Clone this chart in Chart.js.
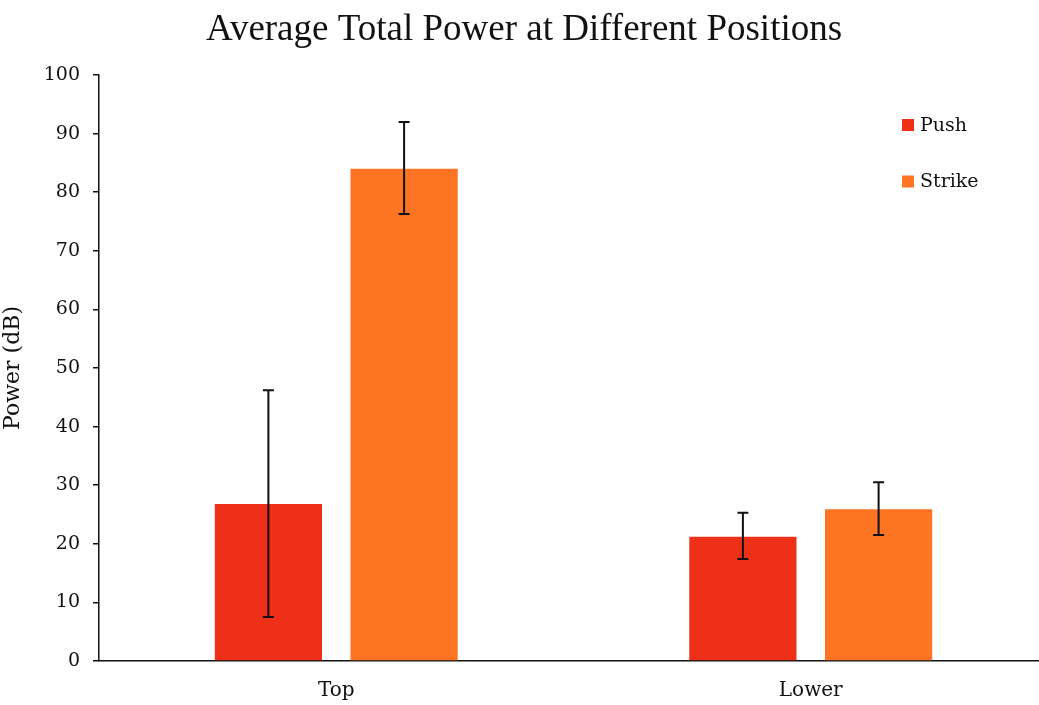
<!DOCTYPE html>
<html>
<head>
<meta charset="utf-8">
<script src="https://cdn.jsdelivr.net/npm/chart.js@4.4.0/dist/chart.umd.min.js"></script>
<style>
html,body{margin:0;padding:0;background:#fff;overflow:hidden;}
#wrap{width:1039px;height:705px;position:relative;overflow:hidden;}
</style>
</head>
<body>
<div id="wrap"><canvas id="c" width="1048" height="705"></canvas></div>
<script>
const categories = ['Top', 'Lower'];
const seriesNames = ['Push', 'Strike'];
const pushValues = [26.8, 21.2];
const strikeValues = [84.0, 25.9];
const pushErrLow = [7.5, 17.4];
const pushErrHigh = [46.2, 25.3];
const strikeErrLow = [76.3, 21.5];
const strikeErrHigh = [92.0, 30.5];
const yTicks = [0, 10, 20, 30, 40, 50, 60, 70, 80, 90, 100];

const pushColor = '#ee3018';
const strikeColor = '#fd7422';
const serif = '"Liberation Serif", "DejaVu Serif", serif';
const serif2 = '"DejaVu Serif", "Liberation Serif", serif';

const errorBarPlugin = {
  id: 'errorBars',
  afterDatasetsDraw(chart) {
    const ctx = chart.ctx;
    const y = chart.scales.y;
    ctx.save();
    ctx.strokeStyle = '#111';
    ctx.lineWidth = 2;
    chart.data.datasets.forEach((ds, di) => {
      const meta = chart.getDatasetMeta(di);
      meta.data.forEach((bar, i) => {
        const x = bar.x;
        const yl = y.getPixelForValue(ds.errLow[i]);
        const yh = y.getPixelForValue(ds.errHigh[i]);
        ctx.beginPath();
        ctx.moveTo(x, yl); ctx.lineTo(x, yh);
        ctx.moveTo(x - 5.5, yl); ctx.lineTo(x + 5.5, yl);
        ctx.moveTo(x - 5.5, yh); ctx.lineTo(x + 5.5, yh);
        ctx.stroke();
      });
    });
    ctx.restore();
  }
};

const legendPlugin = {
  id: 'customLegend',
  afterDraw(chart) {
    const ctx = chart.ctx;
    ctx.save();
    ctx.font = '19px ' + serif2;
    ctx.textBaseline = 'middle';
    ctx.textAlign = 'left';
    chart.data.datasets.forEach((ds, i) => {
      const cy = 125 + i * 56.5;
      ctx.fillStyle = ds.backgroundColor;
      ctx.fillRect(902, cy - 6, 12, 12);
      ctx.fillStyle = '#111';
      ctx.fillText(ds.label, 920, cy + 1);
    });
    ctx.restore();
  }
};

new Chart(document.getElementById('c'), {
  type: 'bar',
  data: {
    labels: categories,
    datasets: [
      { label: seriesNames[0], data: pushValues, backgroundColor: pushColor, errLow: pushErrLow, errHigh: pushErrHigh },
      { label: seriesNames[1], data: strikeValues, backgroundColor: strikeColor, errLow: strikeErrLow, errHigh: strikeErrHigh }
    ]
  },
  options: {
    responsive: false,
    animation: false,
    devicePixelRatio: 1,
    layout: { padding: { top: 0, right: 0, left: 0, bottom: 0 } },
    datasets: { bar: { categoryPercentage: 0.572, barPercentage: 0.79 } },
    plugins: {
      legend: { display: false },
      tooltip: { enabled: false },
      title: {
        display: true,
        text: 'Average Total Power at Different Positions',
        color: '#111',
        font: { family: serif, size: 37, weight: 'normal' },
        padding: { top: 8, bottom: 22.6 }
      }
    },
    scales: {
      x: {
        grid: { display: false },
        border: { color: '#111', width: 1.5 },
        ticks: { color: '#111', font: { family: serif2, size: 20 }, padding: 10 },
        afterFit(axis) { axis.height = 44; }
      },
      y: {
        min: 0, max: 100,
        afterBuildTicks(axis) { axis.ticks = yTicks.map(v => ({ value: v })); },
        grid: { display: true, drawOnChartArea: false, drawTicks: true, tickLength: 6, color: '#111', lineWidth: 1.5 },
        border: { color: '#111', width: 1.5 },
        ticks: { color: '#111', font: { family: serif2, size: 19 }, padding: 13 },
        title: { display: true, text: 'Power (dB)', color: '#111', font: { family: serif2, size: 22 }, padding: { top: 0, bottom: 4 } },
        afterFit(axis) { axis.width = 99; }
      }
    }
  },
  plugins: [errorBarPlugin, legendPlugin]
});
</script>
</body>
</html>
